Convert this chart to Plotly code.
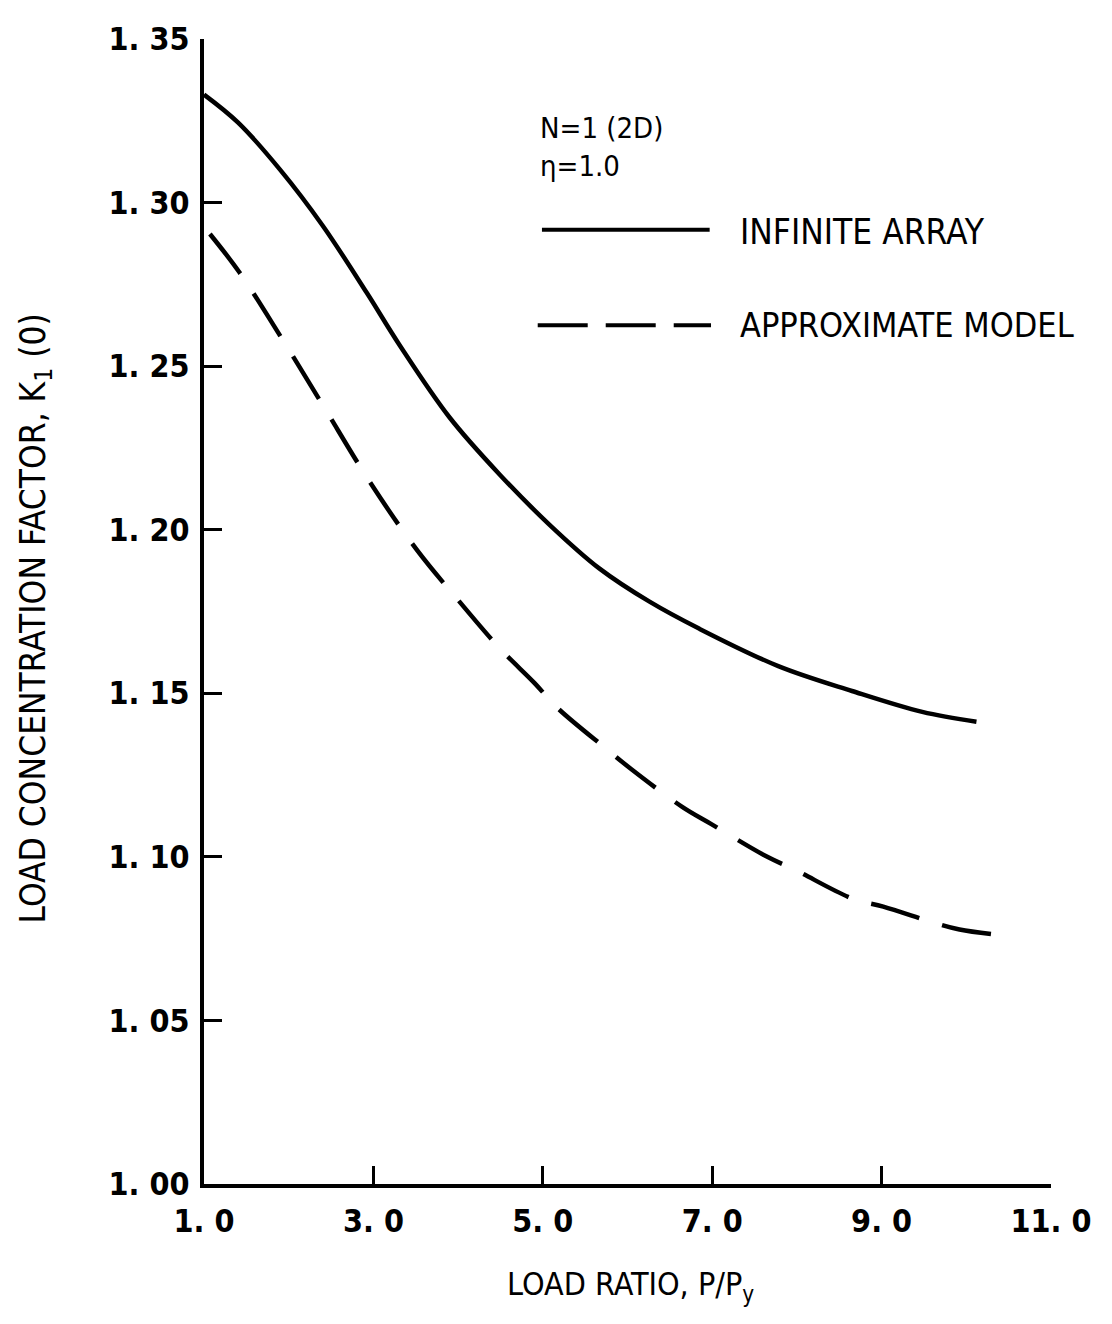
import plotly.graph_objects as go

# Data
inf_x = [1.0, 1.40, 1.90, 2.40, 2.92, 3.31, 3.90, 4.49, 5.08, 5.67, 6.26, 6.85, 7.78, 8.65, 9.48, 10.12]
inf_y = [1.333, 1.3245, 1.310, 1.293, 1.2725, 1.2564, 1.2343, 1.2169, 1.2015, 1.1881, 1.1780, 1.1697, 1.1583, 1.1507, 1.1443, 1.1413]

apx_x = [1.07, 1.42, 1.93, 2.40, 2.96, 3.52, 4.00, 4.50, 4.90, 5.17, 5.76, 6.05, 6.65, 6.99, 7.65, 7.98, 8.66, 9.02, 9.64, 9.92, 10.52]
apx_y = [1.2904, 1.2786, 1.2580, 1.2382, 1.2145, 1.1936, 1.1785, 1.1635, 1.1532, 1.1456, 1.1328, 1.1267, 1.1152, 1.1100, 1.1000, 1.0960, 1.0872, 1.0848, 1.0797, 1.0778, 1.0757]

x_ticks = [1.0, 3.0, 5.0, 7.0, 9.0, 11.0]
x_tick_text = ["1. 0", "3. 0", "5. 0", "7. 0", "9. 0", "11. 0"]
y_ticks = [1.00, 1.05, 1.10, 1.15, 1.20, 1.25, 1.30, 1.35]
y_tick_text = ["1. 00", "1. 05", "1. 10", "1. 15", "1. 20", "1. 25", "1. 30", "1. 35"]

FONT = "DejaVu Sans Condensed, Liberation Sans Narrow, sans-serif"

fig = go.Figure()
fig.add_trace(go.Scatter(x=inf_x, y=inf_y, mode="lines",
                         line=dict(color="black", width=4.5, shape="spline", smoothing=1.0),
                         showlegend=False))
fig.add_trace(go.Scatter(x=apx_x, y=apx_y, mode="lines",
                         line=dict(color="black", width=4.5, shape="spline", smoothing=1.0,
                                   dash="50px,24px"),
                         showlegend=False))

axis_common = dict(showgrid=False, zeroline=False, showline=True, linecolor="black",
                   linewidth=4, ticks="inside", ticklen=18, tickwidth=3, tickcolor="black",
                   tickfont=dict(family=FONT, size=32, color="black", weight="bold"))

fig.update_xaxes(range=[1.0, 11.0], tickvals=x_ticks, ticktext=x_tick_text,
                 ticklabelstandoff=6, **axis_common)
fig.update_yaxes(range=[1.0, 1.35], tickvals=y_ticks, ticktext=y_tick_text,
                 ticklabelstandoff=4, **axis_common)

# Axis titles
fig.add_annotation(text="LOAD RATIO, P/P<sub>y</sub>", xref="paper", yref="paper",
                   x=0.503, y=-0.069, xanchor="center", yanchor="top", showarrow=False,
                   font=dict(family=FONT, size=32, color="black"))
fig.add_annotation(text="LOAD CONCENTRATION FACTOR, K<sub>1</sub> (0)", xref="paper", yref="paper",
                   x=-0.1995, y=0.494, xanchor="center", yanchor="middle", textangle=-90, showarrow=False,
                   font=dict(family=FONT, size=35, color="black"))

# Legend block
fig.add_annotation(text="N=1 (2D)<br>\u03b7=1.0", xref="paper", yref="paper",
                   x=0.394, y=0.9387, xanchor="left", yanchor="top", align="left", showarrow=False,
                   font=dict(family=FONT, size=29, color="black"))
fig.add_annotation(text="INFINITE ARRAY", xref="paper", yref="paper",
                   x=0.6305, y=0.8316, xanchor="left", yanchor="middle", showarrow=False,
                   font=dict(family=FONT, size=35, color="black"))
fig.add_annotation(text="APPROXIMATE MODEL", xref="paper", yref="paper",
                   x=0.6305, y=0.750, xanchor="left", yanchor="middle", showarrow=False,
                   font=dict(family=FONT, size=34, color="black"))
fig.add_shape(type="line", xref="paper", yref="paper", x0=0.399, x1=0.597, y0=0.8333, y1=0.8333,
              line=dict(color="black", width=4))
fig.add_shape(type="line", xref="paper", yref="paper", x0=0.394, x1=0.5986, y0=0.750, y1=0.750,
              line=dict(color="black", width=4, dash="50px,18px"))

fig.update_layout(width=1104, height=1316, margin=dict(l=196, r=61, t=24, b=140),
                  plot_bgcolor="white", paper_bgcolor="white")

fig.write_html("out.html")
